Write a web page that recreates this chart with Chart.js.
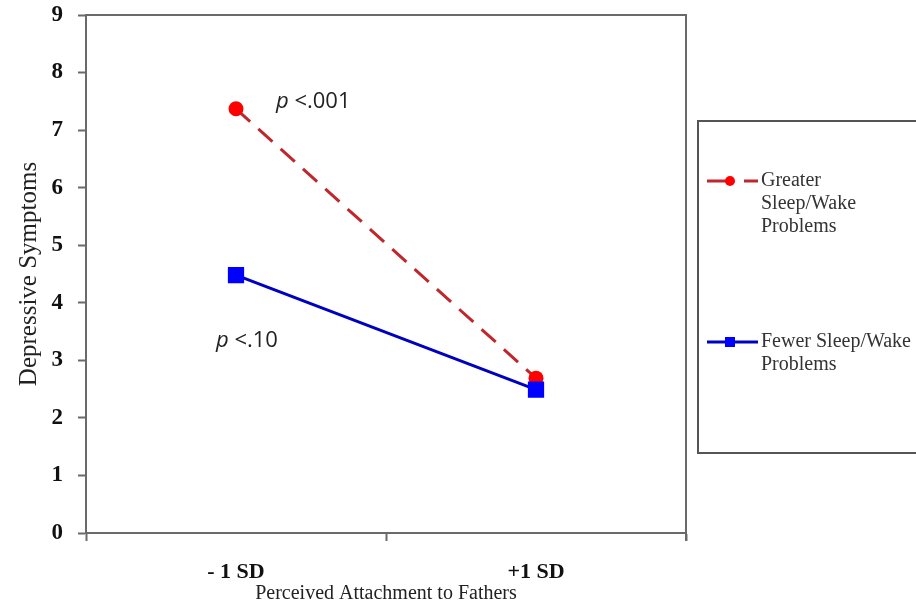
<!DOCTYPE html>
<html>
<head>
<meta charset="utf-8">
<script src="https://cdn.jsdelivr.net/npm/chart.js@4.4.0/dist/chart.umd.min.js"></script>
<style>
  html, body { margin: 0; padding: 0; background: #fff; }
  #wrap { width: 916px; height: 611px; position: relative; }
</style>
</head>
<body>
<div id="wrap"><canvas id="slopeChart"></canvas></div>
<script>
// data
const categories = ['- 1 SD', '+1 SD'];
const greaterProblems = [7.37, 2.69];
const fewerProblems = [4.48, 2.49];
const yTicks = [0, 1, 2, 3, 4, 5, 6, 7, 8, 9];
const greaterLabel = ['Greater', 'Sleep/Wake', 'Problems'];
const fewerLabel = ['Fewer Sleep/Wake', 'Problems'];
const pLabels = ['<.001', '<.10'];

const axisGrey = '#6a6a6a';
const serif = '"Liberation Serif", "Times New Roman", serif';

// frame around the plot area (top + right edges)
const framePlugin = {
    id: 'frame',
    afterDraw(chart) {
        const { ctx, chartArea: a } = chart;
        ctx.save();
        ctx.strokeStyle = axisGrey;
        ctx.lineWidth = 2;
        ctx.beginPath();
        ctx.moveTo(a.left, a.top);
        ctx.lineTo(a.right, a.top);
        ctx.lineTo(a.right, a.bottom + 8);
        ctx.stroke();
        ctx.restore();
    }
};

// p-value notes next to the -1 SD points
const notesPlugin = {
    id: 'notes',
    afterDatasetsDraw(chart) {
        const { ctx, scales } = chart;
        const x0 = scales.x.getPixelForValue(0);
        const drawNote = (txt, x, y) => {
            ctx.save();
            ctx.fillStyle = '#222';
            ctx.textBaseline = 'middle';
            ctx.font = 'italic 22px "Open Sans", "Liberation Sans", sans-serif';
            ctx.fillText('p', x, y);
            const w = ctx.measureText('p ').width;
            ctx.font = '22px "Open Sans", "Liberation Sans", sans-serif';
            ctx.fillText(txt, x + w, y);
            ctx.restore();
        };
        drawNote(pLabels[0], x0 + 40, scales.y.getPixelForValue(greaterProblems[0]) - 7);
        drawNote(pLabels[1], x0 - 20, scales.y.getPixelForValue(fewerProblems[0]) + 66);
    }
};

// boxed legend on the right, partly cut off by the canvas edge
const legendBoxPlugin = {
    id: 'legendBox',
    afterDraw(chart) {
        const { ctx, chartArea: a, width } = chart;
        const left = a.right + 12, top = 121, bottom = 453;
        ctx.save();
        ctx.strokeStyle = '#555';
        ctx.lineWidth = 2;
        ctx.strokeRect(left, top, width - left + 10, bottom - top);

        const entries = [
            { ds: chart.data.datasets[0], lines: greaterLabel, y: 181 },
            { ds: chart.data.datasets[1], lines: fewerLabel, y: 342 }
        ];
        entries.forEach(e => {
            const x1 = left + 9, x2 = left + 60, mx = left + 32;
            ctx.strokeStyle = e.ds.borderColor;
            ctx.lineWidth = 3;
            if (e.ds.borderDash && e.ds.borderDash.length) {
                ctx.beginPath();
                ctx.moveTo(x1, e.y); ctx.lineTo(mx, e.y);
                ctx.moveTo(mx + 14, e.y); ctx.lineTo(x2, e.y);
                ctx.stroke();
            } else {
                ctx.beginPath();
                ctx.moveTo(x1, e.y); ctx.lineTo(x2, e.y);
                ctx.stroke();
            }
            ctx.fillStyle = e.ds.pointBackgroundColor;
            if (e.ds.pointStyle === 'rect') {
                ctx.fillRect(mx - 5, e.y - 5, 10, 10);
            } else {
                ctx.beginPath();
                ctx.arc(mx, e.y, 5, 0, Math.PI * 2);
                ctx.fill();
            }
            ctx.fillStyle = '#333';
            ctx.font = '20px ' + serif;
            ctx.textBaseline = 'middle';
            e.lines.forEach((t, i) => ctx.fillText(t, x2 + 3, e.y + i * 23));
        });
        ctx.restore();
    }
};

const ctx = document.getElementById('slopeChart').getContext('2d');
new Chart(ctx, {
    type: 'line',
    data: {
        labels: categories,
        datasets: [{
            label: 'Greater Sleep/Wake Problems',
            data: greaterProblems,
            borderColor: '#c0272d',
            borderWidth: 3,
            borderDash: [19, 11],
            pointStyle: 'circle',
            pointRadius: 7.5,
            pointBackgroundColor: '#ff0000',
            pointBorderColor: '#ff0000',
            pointBorderWidth: 0,
            order: 1
        }, {
            label: 'Fewer Sleep/Wake Problems',
            data: fewerProblems,
            borderColor: '#0000c0',
            borderWidth: 3,
            pointStyle: 'rect',
            pointRadius: 11.5,
            pointBackgroundColor: '#0000ff',
            pointBorderColor: '#0000ff',
            pointBorderWidth: 0,
            order: 0
        }]
    },
    options: {
        responsive: true,
        maintainAspectRatio: false,
        animation: false,
        layout: { padding: { top: 15, right: 230, left: 0, bottom: 0 } },
        plugins: {
            legend: { display: false },
            tooltip: { enabled: false }
        },
        scales: {
            x: {
                offset: true,
                grid: {
                    offset: true,
                    drawOnChartArea: false,
                    tickLength: 8,
                    tickColor: axisGrey,
                    tickWidth: 2
                },
                border: { color: axisGrey, width: 2 },
                ticks: {
                    color: '#111',
                    padding: 18,
                    font: { family: serif, size: 22, weight: 'bold' }
                },
                title: {
                    display: true,
                    text: 'Perceived Attachment to Fathers',
                    color: '#222',
                    font: { family: serif, size: 20 },
                    padding: { top: 0, bottom: 5 }
                },
                afterFit(scale) {
                    scale.height = 78;
                    scale.paddingLeft = 0;
                    scale.paddingRight = 0;
                }
            },
            y: {
                min: 0,
                max: 9,
                afterBuildTicks(scale) {
                    scale.ticks = yTicks.map(v => ({ value: v }));
                },
                grid: {
                    drawOnChartArea: false,
                    tickLength: 8,
                    tickColor: axisGrey,
                    tickWidth: 2
                },
                border: { color: axisGrey, width: 2 },
                ticks: {
                    color: '#111',
                    padding: 15,
                    font: { family: serif, size: 23, weight: 'bold' }
                },
                title: {
                    display: true,
                    text: 'Depressive Symptoms',
                    color: '#222',
                    font: { family: serif, size: 25 },
                    padding: { top: 14, bottom: 0 }
                },
                afterFit(scale) {
                    scale.width = 86;
                    scale.paddingTop = 0;
                    scale.paddingBottom = 0;
                }
            }
        }
    },
    plugins: [framePlugin, notesPlugin, legendBoxPlugin]
});
</script>
</body>
</html>
